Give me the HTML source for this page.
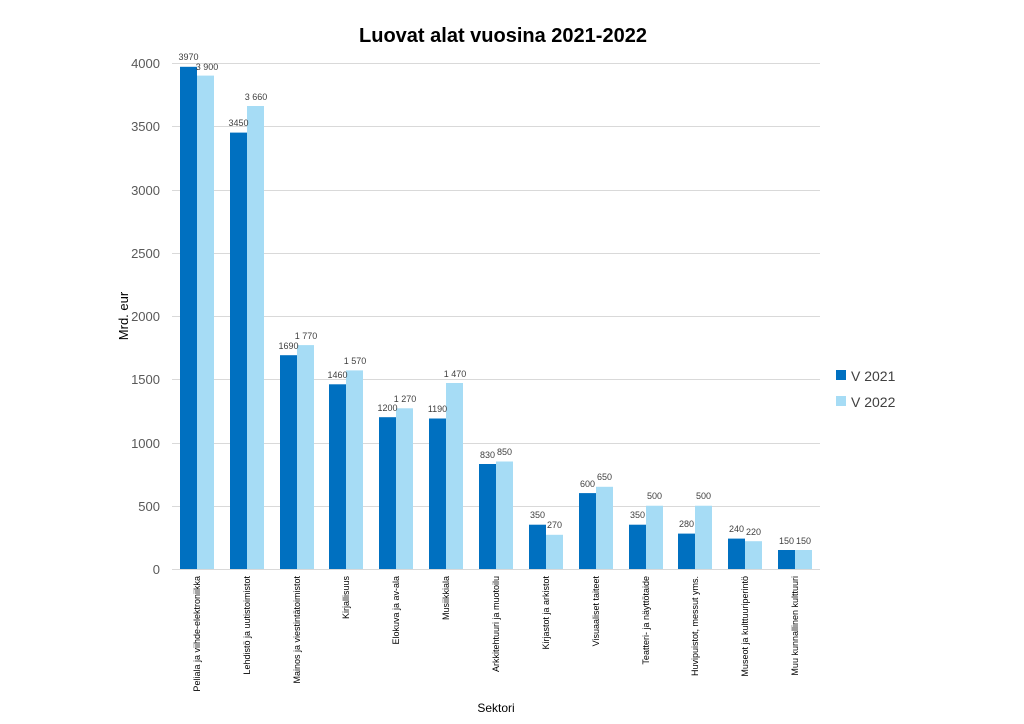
<!DOCTYPE html>
<html><head><meta charset="utf-8"><style>body{margin:0;background:#fff}svg{display:block}</style></head><body>
<svg width="1024" height="724" xmlns="http://www.w3.org/2000/svg" font-family="Liberation Sans, sans-serif">
<rect width="1024" height="724" fill="#fff"/>
<text x="503" y="42" text-anchor="middle" font-size="20" font-weight="bold" fill="#000">Luovat alat vuosina 2021-2022</text>
<g stroke="#d9d9d9" stroke-width="1">
<line x1="172" x2="820" y1="63.5" y2="63.5"/><line x1="172" x2="820" y1="126.5" y2="126.5"/>
<line x1="172" x2="820" y1="190.5" y2="190.5"/><line x1="172" x2="820" y1="253.5" y2="253.5"/>
<line x1="172" x2="820" y1="316.5" y2="316.5"/><line x1="172" x2="820" y1="379.5" y2="379.5"/>
<line x1="172" x2="820" y1="443.5" y2="443.5"/><line x1="172" x2="820" y1="506.5" y2="506.5"/>
<line x1="172" x2="820" y1="569.5" y2="569.5"/>
</g>
<g font-size="13" fill="#595959" text-anchor="end">
<text x="160" y="68">4000</text><text x="160" y="131">3500</text><text x="160" y="195">3000</text>
<text x="160" y="258">2500</text><text x="160" y="321">2000</text><text x="160" y="384">1500</text>
<text x="160" y="448">1000</text><text x="160" y="511">500</text><text x="160" y="574">0</text>
</g>
<text transform="translate(128,316) rotate(-90)" text-anchor="middle" font-size="13" fill="#000">Mrd. eur</text>
<text x="496" y="712" text-anchor="middle" font-size="12" fill="#000">Sektori</text>
<g fill="#0070C0">
<rect x="180" y="66.8" width="17" height="502.2"/>
<rect x="230" y="132.6" width="17" height="436.4"/>
<rect x="280" y="355.2" width="17" height="213.8"/>
<rect x="329" y="384.3" width="17" height="184.7"/>
<rect x="379" y="417.2" width="17" height="151.8"/>
<rect x="429" y="418.5" width="17" height="150.5"/>
<rect x="479" y="464" width="17" height="105"/>
<rect x="529" y="524.7" width="17" height="44.3"/>
<rect x="579" y="493.1" width="17" height="75.9"/>
<rect x="629" y="524.7" width="17" height="44.3"/>
<rect x="678" y="533.6" width="17" height="35.4"/>
<rect x="728" y="538.6" width="17" height="30.4"/>
<rect x="778" y="550" width="17" height="19"/>
</g>
<g fill="#A6DCF5">
<rect x="197" y="75.6" width="17" height="493.4"/>
<rect x="247" y="106" width="17" height="463"/>
<rect x="297" y="345.1" width="17" height="223.9"/>
<rect x="346" y="370.4" width="17" height="198.6"/>
<rect x="396" y="408.3" width="17" height="160.7"/>
<rect x="446" y="383" width="17" height="186"/>
<rect x="496" y="461.5" width="17" height="107.5"/>
<rect x="546" y="534.8" width="17" height="34.2"/>
<rect x="596" y="486.8" width="17" height="82.2"/>
<rect x="646" y="505.75" width="17" height="63.25"/>
<rect x="695" y="505.75" width="17" height="63.25"/>
<rect x="745" y="541.2" width="17" height="27.8"/>
<rect x="795" y="550" width="17" height="19"/>
</g>
<g font-size="9" fill="#404040" text-anchor="middle">
<text x="188.5" y="60">3970</text><text x="207" y="70">3 900</text>
<text x="238.5" y="126">3450</text><text x="256" y="100">3 660</text>
<text x="288.5" y="349">1690</text><text x="306" y="339">1 770</text>
<text x="337.5" y="378">1460</text><text x="355" y="364">1 570</text>
<text x="387.5" y="411">1200</text><text x="405" y="402">1 270</text>
<text x="437.5" y="412">1190</text><text x="455" y="377">1 470</text>
<text x="487.5" y="458">830</text><text x="504.5" y="455">850</text>
<text x="537.5" y="518">350</text><text x="554.5" y="528">270</text>
<text x="587.5" y="487">600</text><text x="604.5" y="480">650</text>
<text x="637.5" y="518">350</text><text x="654.5" y="499">500</text>
<text x="686.5" y="527">280</text><text x="703.5" y="499">500</text>
<text x="736.5" y="532">240</text><text x="753.5" y="535">220</text>
<text x="786.5" y="544">150</text><text x="803.5" y="544">150</text>
</g>
<g font-size="9" fill="#000" text-anchor="end">
<text transform="translate(200,576) rotate(-90)">Peliala ja viihde-elektroniikka</text>
<text transform="translate(250,576) rotate(-90)">Lehdistö ja uutistoimistot</text>
<text transform="translate(300,576) rotate(-90)">Mainos ja viestintätoimistot</text>
<text transform="translate(349,576) rotate(-90)">Kirjallisuus</text>
<text transform="translate(399,576) rotate(-90)">Elokuva ja av-ala</text>
<text transform="translate(449,576) rotate(-90)">Musiikkiala</text>
<text transform="translate(499,576) rotate(-90)">Arkkitehtuuri ja muotoilu</text>
<text transform="translate(549,576) rotate(-90)">Kirjastot ja arkistot</text>
<text transform="translate(599,576) rotate(-90)">Visuaaliset taiteet</text>
<text transform="translate(649,576) rotate(-90)">Teatteri- ja näyttötaide</text>
<text transform="translate(698,576) rotate(-90)">Huvipuistot, messut yms.</text>
<text transform="translate(748,576) rotate(-90)">Museot ja kulttuuriperintö</text>
<text transform="translate(798,576) rotate(-90)">Muu kunnallinen kulttuuri</text>
</g>
<rect x="836" y="370" width="10" height="10" fill="#0070C0"/>
<text x="851" y="381" font-size="14" fill="#404040">V 2021</text>
<rect x="836" y="396" width="10" height="10" fill="#A6DCF5"/>
<text x="851" y="407" font-size="14" fill="#404040">V 2022</text>
</svg>
</body></html>
